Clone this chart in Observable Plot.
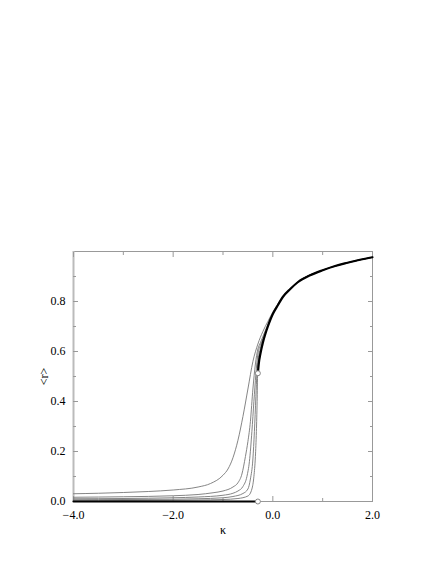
<!DOCTYPE html>
<html>
<head>
<meta charset="utf-8">
<script src="https://cdn.jsdelivr.net/npm/d3@7"></script>
<script src="https://cdn.jsdelivr.net/npm/@observablehq/plot@0.6"></script>
<style>
  html, body { margin: 0; padding: 0; background: #fff; }
  svg, svg text { font-family: "Liberation Serif", "DejaVu Serif", serif !important; }
</style>
</head>
<body>
<div id="chart"></div>
<script>
// Tick values
const xMajorTicks = [-4, -2, 0, 2];
const xMinorTicks = [-3, -1, 1];
const yMajorTicks = [0, 0.2, 0.4, 0.6, 0.8];
const yMinorTicks = [0.1, 0.3, 0.5, 0.7, 0.9];

// Thick curve (ordered branch)
const thickK = [-0.3, -0.28, -0.25, -0.2, -0.15, -0.1, -0.05, 0, 0.1, 0.2, 0.35, 0.5, 0.75, 1.0, 1.25, 1.5, 1.75, 2.0];
const thickR = [0.513, 0.555, 0.59, 0.635, 0.67, 0.70, 0.727, 0.75, 0.785, 0.818, 0.85, 0.877, 0.905, 0.925, 0.942, 0.955, 0.967, 0.977];
// Thick baseline (disordered branch)
const baseK = [-4, -0.3];
const baseR = [0, 0];
// Open circles at the jump
const jumpK = [-0.3, -0.3];
const jumpR = [0, 0.513];

// Finite-size curves
const c1K = [-4, -3.5, -3, -2.5, -2, -1.5, -1.25, -1.0, -0.9, -0.8, -0.7, -0.6, -0.5, -0.4, -0.3, -0.2, -0.1, 0, 0.1, 0.2, 0.35, 0.5, 1.0, 1.5, 2.0];
const c1R = [0.031, 0.033, 0.036, 0.040, 0.046, 0.058, 0.072, 0.105, 0.13, 0.175, 0.245, 0.34, 0.45, 0.56, 0.63, 0.68, 0.72, 0.758, 0.79, 0.82, 0.852, 0.878, 0.926, 0.956, 0.977];
const c2K = [-4, -3, -2, -1.5, -1.2, -1.0, -0.8, -0.7, -0.62, -0.55, -0.5, -0.45, -0.4, -0.35, -0.3, -0.25, -0.2, -0.1, 0, 0.1, 0.2, 0.35, 0.5, 1.0, 1.5, 2.0];
const c2R = [0.017, 0.019, 0.023, 0.028, 0.035, 0.042, 0.058, 0.075, 0.11, 0.18, 0.24, 0.32, 0.45, 0.55, 0.61, 0.635, 0.66, 0.708, 0.753, 0.787, 0.819, 0.851, 0.877, 0.925, 0.955, 0.977];
const c3K = [-4, -3, -2, -1.5, -1.0, -0.8, -0.7, -0.6, -0.52, -0.47, -0.42, -0.38, -0.34, -0.3, -0.25, -0.2, -0.1, 0, 0.1, 0.2, 0.35, 0.5, 1.0, 1.5, 2.0];
const c3R = [0.011, 0.012, 0.015, 0.018, 0.025, 0.033, 0.042, 0.06, 0.10, 0.16, 0.28, 0.40, 0.51, 0.59, 0.625, 0.652, 0.705, 0.752, 0.786, 0.818, 0.85, 0.877, 0.925, 0.955, 0.977];
const c4K = [-4, -3, -2, -1.5, -1.0, -0.8, -0.6, -0.5, -0.45, -0.4, -0.37, -0.34, -0.32, -0.29, -0.25, -0.2, -0.1, 0, 0.1, 0.2, 0.35, 0.5, 1.0, 1.5, 2.0];
const c4R = [0.007, 0.008, 0.009, 0.011, 0.015, 0.02, 0.032, 0.05, 0.09, 0.17, 0.28, 0.42, 0.51, 0.575, 0.612, 0.645, 0.702, 0.751, 0.786, 0.818, 0.85, 0.877, 0.925, 0.955, 0.977];
const c5K = [-4, -3, -2, -1.5, -1.0, -0.7, -0.5, -0.42, -0.38, -0.35, -0.33, -0.315, -0.305, -0.28, -0.25, -0.2, -0.1, 0, 0.1, 0.2, 0.35, 0.5, 1.0, 1.5, 2.0];
const c5R = [0.003, 0.004, 0.005, 0.006, 0.008, 0.012, 0.022, 0.05, 0.10, 0.18, 0.28, 0.40, 0.51, 0.565, 0.60, 0.64, 0.70, 0.75, 0.786, 0.818, 0.85, 0.877, 0.925, 0.955, 0.977];

const zip = (ks, rs, id) => ks.map((k, i) => ({k, r: rs[i], id}));
const grayData = [
  ...zip(c1K, c1R, 1), ...zip(c2K, c2R, 2), ...zip(c3K, c3R, 3),
  ...zip(c4K, c4R, 4), ...zip(c5K, c5R, 5)
];
const thickData = zip(thickK, thickR, 0);
const baseData = zip(baseK, baseR, 0);
const jumpData = zip(jumpK, jumpR, 0);

const fmt = d3.format(".1f");
const frameColor = "#999";
const serif = "'Liberation Serif', 'DejaVu Serif', serif";

const chart = Plot.plot({
  width: 436,
  height: 564,
  marginLeft: 73,
  marginRight: 64,
  marginTop: 251,
  marginBottom: 63,
  style: {fontFamily: serif, fontSize: "12px", background: "#fff", color: "#000"},
  x: {domain: [-4, 2]},
  y: {domain: [0, 1]},
  marks: [
    Plot.frame({stroke: frameColor, strokeWidth: 1}),
    Plot.ruleX([-4], {stroke: "#bbb", strokeWidth: 2}),
    // bottom labels
    Plot.axisX({anchor: "bottom", ticks: xMajorTicks, tickSize: 0, tickPadding: 9, tickFormat: fmt, fontSize: 12, fontFamily: serif,
      label: "κ", labelAnchor: "center", labelArrow: "none", labelOffset: 32}),
    // inward ticks on all sides
    Plot.axisX({anchor: "bottom", ticks: xMajorTicks, tickSize: -5, tickFormat: () => "", stroke: frameColor, label: null}),
    Plot.axisX({anchor: "bottom", ticks: xMinorTicks, tickSize: -3, tickFormat: () => "", stroke: frameColor, label: null}),
    Plot.axisX({anchor: "top", ticks: xMajorTicks, tickSize: -5, tickFormat: () => "", stroke: frameColor, label: null}),
    Plot.axisX({anchor: "top", ticks: xMinorTicks, tickSize: -3, tickFormat: () => "", stroke: frameColor, label: null}),
    Plot.axisY({anchor: "left", ticks: yMajorTicks, tickSize: 0, tickPadding: 8, tickFormat: fmt, fontSize: 12, fontFamily: serif,
      label: "<r>", labelAnchor: "center", labelArrow: "none", labelOffset: 34}),
    Plot.axisY({anchor: "left", ticks: yMajorTicks, tickSize: -5, tickFormat: () => "", stroke: frameColor, label: null}),
    Plot.axisY({anchor: "left", ticks: yMinorTicks, tickSize: -3, tickFormat: () => "", stroke: frameColor, label: null}),
    Plot.axisY({anchor: "right", ticks: yMajorTicks, tickSize: -5, tickFormat: () => "", stroke: frameColor, label: null}),
    Plot.axisY({anchor: "right", ticks: yMinorTicks, tickSize: -3, tickFormat: () => "", stroke: frameColor, label: null}),
    // curves
    Plot.line(grayData, {x: "k", y: "r", z: "id", stroke: "#777", strokeWidth: 0.9, curve: "monotone-x"}),
    Plot.line(baseData, {x: "k", y: "r", stroke: "#000", strokeWidth: 2.2}),
    Plot.line(thickData, {x: "k", y: "r", stroke: "#000", strokeWidth: 2.2, curve: "monotone-x"}),
    Plot.dot(jumpData, {x: "k", y: "r", r: 2.5, fill: "#fff", stroke: "#888", strokeWidth: 1})
  ]
});
document.getElementById("chart").appendChild(chart);
</script>
</body>
</html>
